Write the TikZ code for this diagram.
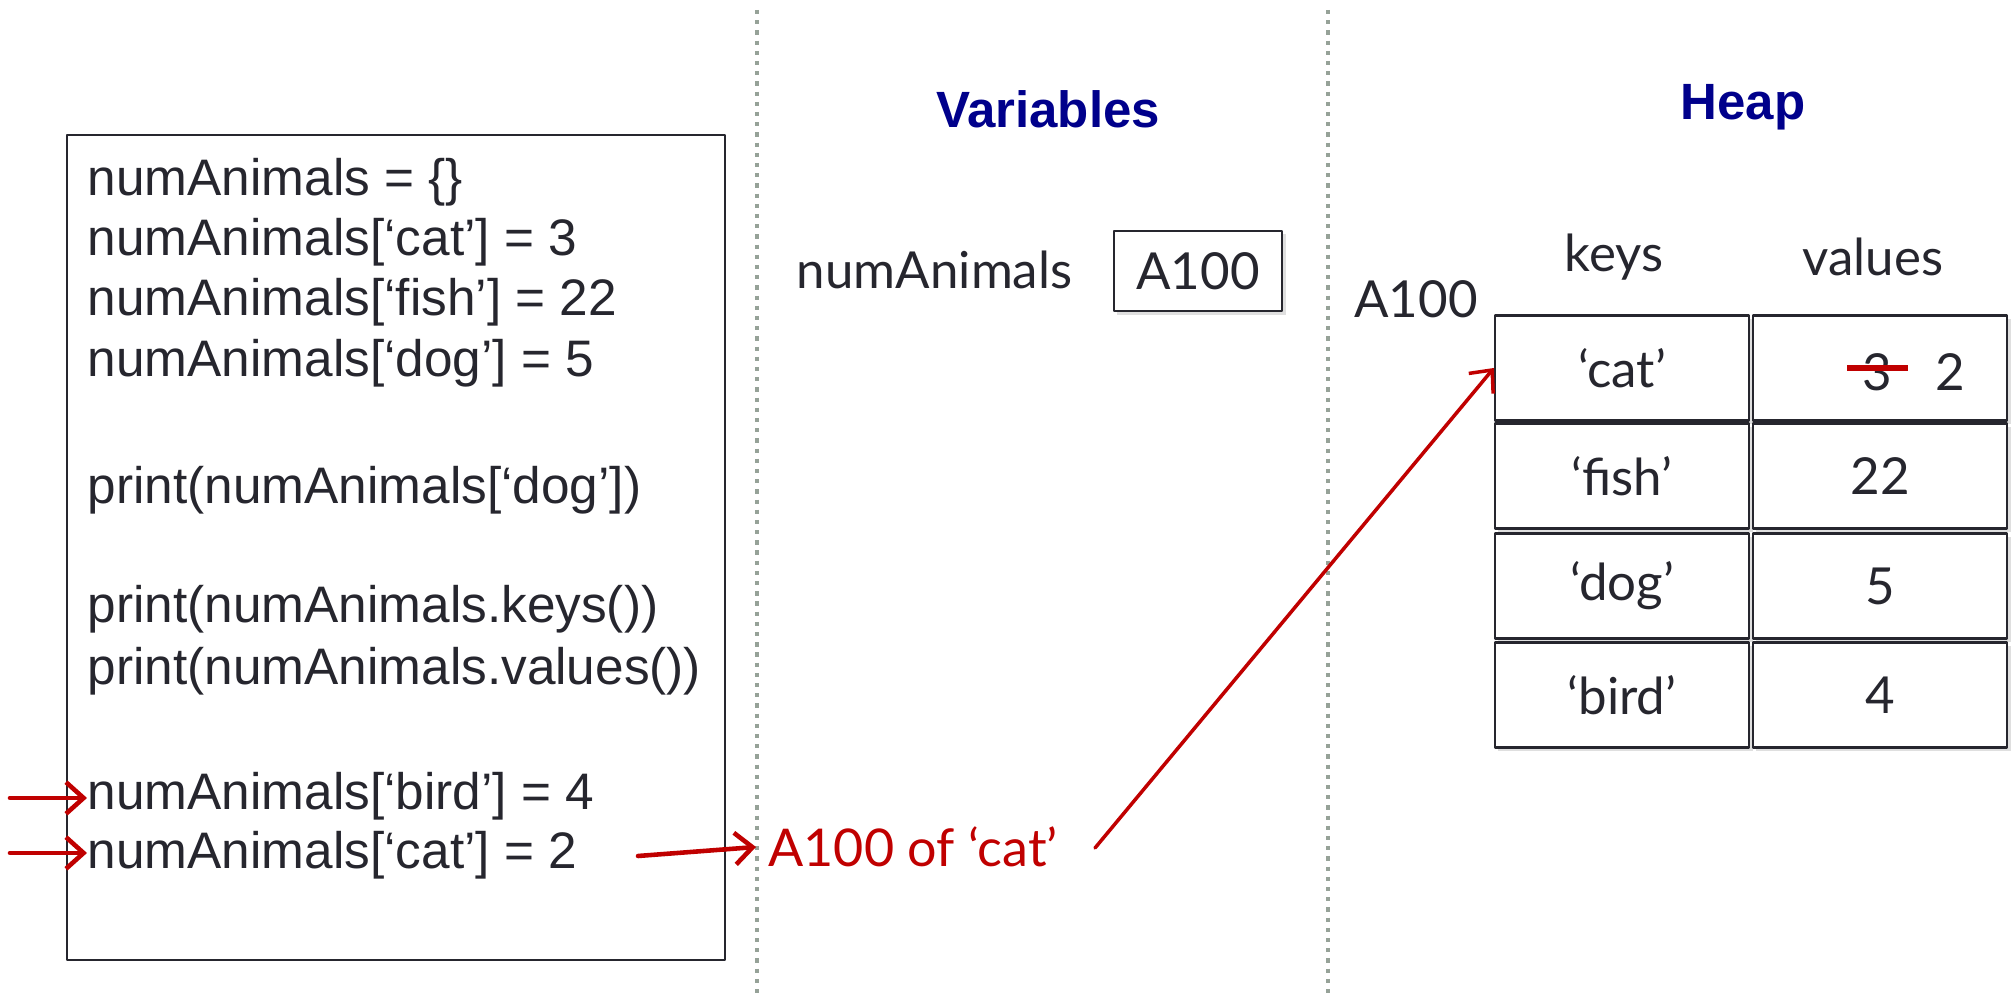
\documentclass[tikz,border=0pt]{standalone}
\usepackage{fontspec}
\setmainfont{Liberation Sans}
\newfontfamily\gill{Lato}
\usetikzlibrary{arrows.meta,shadows}
\definecolor{navy}{RGB}{0,0,139}
\definecolor{darkred}{RGB}{192,0,0}
\definecolor{ink}{RGB}{38,38,46}
\definecolor{sepgray}{RGB}{150,162,152}

\begin{document}
\begin{tikzpicture}[x=0.01cm,y=-0.01cm,>={Straight Barb[length=5pt,width=9pt]},line join=round,line cap=round,
	code/.style={anchor=base west,inner sep=0pt,text=ink,font=\fontsize{14.6}{17}\selectfont},
	gs/.style={text=ink,font=\gill\fontsize{14.5}{17}\selectfont},
	cell/.style={gs,draw=ink,line width=0.6pt,minimum width=2.54cm,minimum height=1.05cm,inner sep=0pt,fill=white,
		drop shadow={shadow xshift=1pt,shadow yshift=-1pt,opacity=0.25}},
	title/.style={text=navy,font=\bfseries\fontsize{14.5}{17}\selectfont},
	sepline/.style={sepgray,line width=1.2pt,dash pattern=on 1.2pt off 1.7pt,line cap=butt},
	redarr/.style={->,draw=darkred,line width=1.3pt}]
	\useasboundingbox (0,0) rectangle (2012,995);
	\draw[sepline] (757,10) -- (757,995);
	\draw[sepline] (1328,10) -- (1328,995);
	\draw[ink,line width=0.6pt] (67,135) rectangle (725,960);
	\node[code] (l1) at (87,196) {numAnimals = \{\}};
	\node[code] (l2) at (87,256) {numAnimals[‘cat’] = 3};
	\node[code] (l3) at (87,316) {numAnimals[‘fish’] = 22};
	\node[code] (l4) at (87,377) {numAnimals[‘dog’] = 5};
	\node[code] (l5) at (87,504) {print(numAnimals[‘dog’])};
	\node[code] (l6) at (87,623) {print(numAnimals.keys())};
	\node[code] (l7) at (87,685) {print(numAnimals.values())};
	\node[code] (l8) at (87,810) {numAnimals[‘bird’] = 4};
	\node[code] (l9) at (87,869) {numAnimals[‘cat’] = 2};
	\coordinate (b8) at (10,798);
	\coordinate (b9) at (10,853);
	\draw[redarr] (b8) -- (b8 -| l8.west);
	\draw[redarr] (b9) -- (b9 -| l9.west);
	\node[title] (vars) at (1048,109) {Variables};
	\node[title] (heap) at (1743,107) {Heap};
	\node[gs,anchor=east,inner sep=0pt] (var) at (1073,270) {numAnimals};
	\node[cell,minimum width=1.68cm,minimum height=0.8cm] (addr) at (1198,271) {A100};
	\node[gs] (haddr) at (1416,299) {A100};
	\node[gs] (keys) at (1614,257) {keys};
	\node[gs] (vals) at (1873,257) {values};
	\foreach \k/\v/\y [count=\i] in {‘cat’/{}/368,‘fish’/22/476,‘dog’/5/586,‘bird’/4/695}{
		\node[cell] (k\i) at (1622,\y) {\k};
		\node[cell] (v\i) at (1880,\y) {\v};
	}
	\node[gs] (old) at (1877,372) {3};
	\node[gs] (new) at (1950,372) {2};
	\draw[darkred,line width=1.7pt,line cap=butt] ([xshift=-0.3cm,yshift=1pt]old.center) -- ([xshift=0.31cm,yshift=1pt]old.center);
	\node[gs,text=darkred,anchor=west,font=\gill\fontsize{14.8}{18}\selectfont] (ref) at (756,847) {A100 of ‘cat’};
	\coordinate (c0) at (638,856);
	\coordinate (c1) at (1095,848);
	\draw[redarr] (c0) -- (ref.west);
	\draw[redarr,line width=1pt] (c1) -- (k1.west);
\end{tikzpicture}
\end{document}
